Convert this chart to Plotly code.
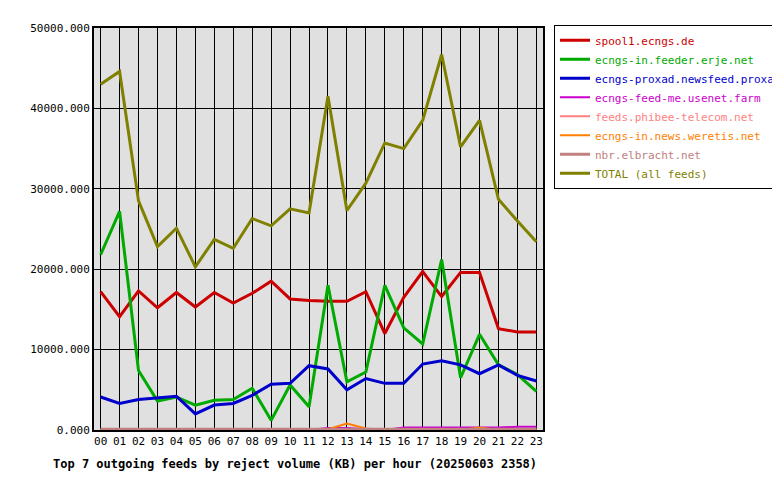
import plotly.graph_objects as go

hours = [f"{h:02d}" for h in range(24)]
spool1 = [17200,14100,17300,15200,17100,15300,17100,15800,17000,18500,16300,16100,16000,16000,17200,12000,16500,19700,16600,19600,19600,12600,12200,12200]
erje = [21800,27200,7400,3600,4100,3100,3700,3800,5200,1200,5600,2900,18000,6000,7200,18000,12700,10700,21200,6500,11900,8100,6900,4800]
proxad = [4100,3300,3800,4000,4200,2000,3100,3300,4300,5700,5800,8000,7600,5000,6400,5800,5800,8200,8600,8100,7000,8100,6800,6100]
usenet = [0,0,0,0,0,0,0,0,0,0,0,0,250,250,100,0,300,300,300,300,300,300,400,400]
phibee = [100]*24
weretis = [0,0,0,0,0,0,0,0,0,0,0,0,100,800,200,0,0,0,0,0,300,0,0,0]
elbracht = [100]*24
total = [43000,44600,28500,22800,25100,20300,23700,22600,26300,25400,27500,27000,41500,27300,30700,35700,35000,38500,46700,35200,38500,28700,26000,23400]

series = [
    ("spool1.ecngs.de", spool1, "#cc0000"),
    ("ecngs-in.feeder.erje.net", erje, "#00aa00"),
    ("ecngs-proxad.newsfeed.proxad.net", proxad, "#0000cc"),
    ("ecngs-feed-me.usenet.farm", usenet, "#cc00cc"),
    ("feeds.phibee-telecom.net", phibee, "#ff8080"),
    ("ecngs-in.news.weretis.net", weretis, "#ff8000"),
    ("nbr.elbracht.net", elbracht, "#c08080"),
    ("TOTAL (all feeds)", total, "#808000"),
]
font = "DejaVu Sans Mono"
fig = go.Figure()
for name, vals, col in series:
    w = 3 if name in ("spool1.ecngs.de","ecngs-in.feeder.erje.net","ecngs-proxad.newsfeed.proxad.net","TOTAL (all feeds)","nbr.elbracht.net") else 2
    fig.add_trace(go.Scatter(x=hours, y=vals, name=f'<span style="color:{col}">{name}</span>',
                             mode="lines", line=dict(color=col, width=w)))
fig.update_layout(
    width=780, height=480, paper_bgcolor="white", plot_bgcolor="#e0e0e0",
    margin=dict(l=86, r=245, t=20, b=58, autoexpand=False),
    font=dict(family=font, size=11, color="black"),
    showlegend=True,
    legend=dict(xref="container", yref="container", x=0.700, y=0.965, xanchor="left", yanchor="top",
                bordercolor="black", borderwidth=1, bgcolor="white", tracegroupgap=0, itemwidth=30,
                font=dict(family=font, size=11)),
    xaxis=dict(showgrid=True, gridcolor="black", gridwidth=1, showline=True, linecolor="black",
               linewidth=2, mirror=True, ticks="", range=[-0.35, 23.35], tickfont=dict(size=11)),
    yaxis=dict(range=[0, 50000], dtick=10000, tickformat=".3f", showgrid=True, gridcolor="black",
               showline=True, linecolor="black", linewidth=2, mirror=True, zeroline=False, ticks=""),
    annotations=[dict(text="<b>Top 7 outgoing feeds by reject volume (KB) per hour (20250603 2358)</b>",
                      xref="paper", yref="paper", x=-0.096, y=-0.062, xanchor="left", yanchor="top",
                      showarrow=False, font=dict(family=font, size=12))],
)
fig.write_html("out.html")
